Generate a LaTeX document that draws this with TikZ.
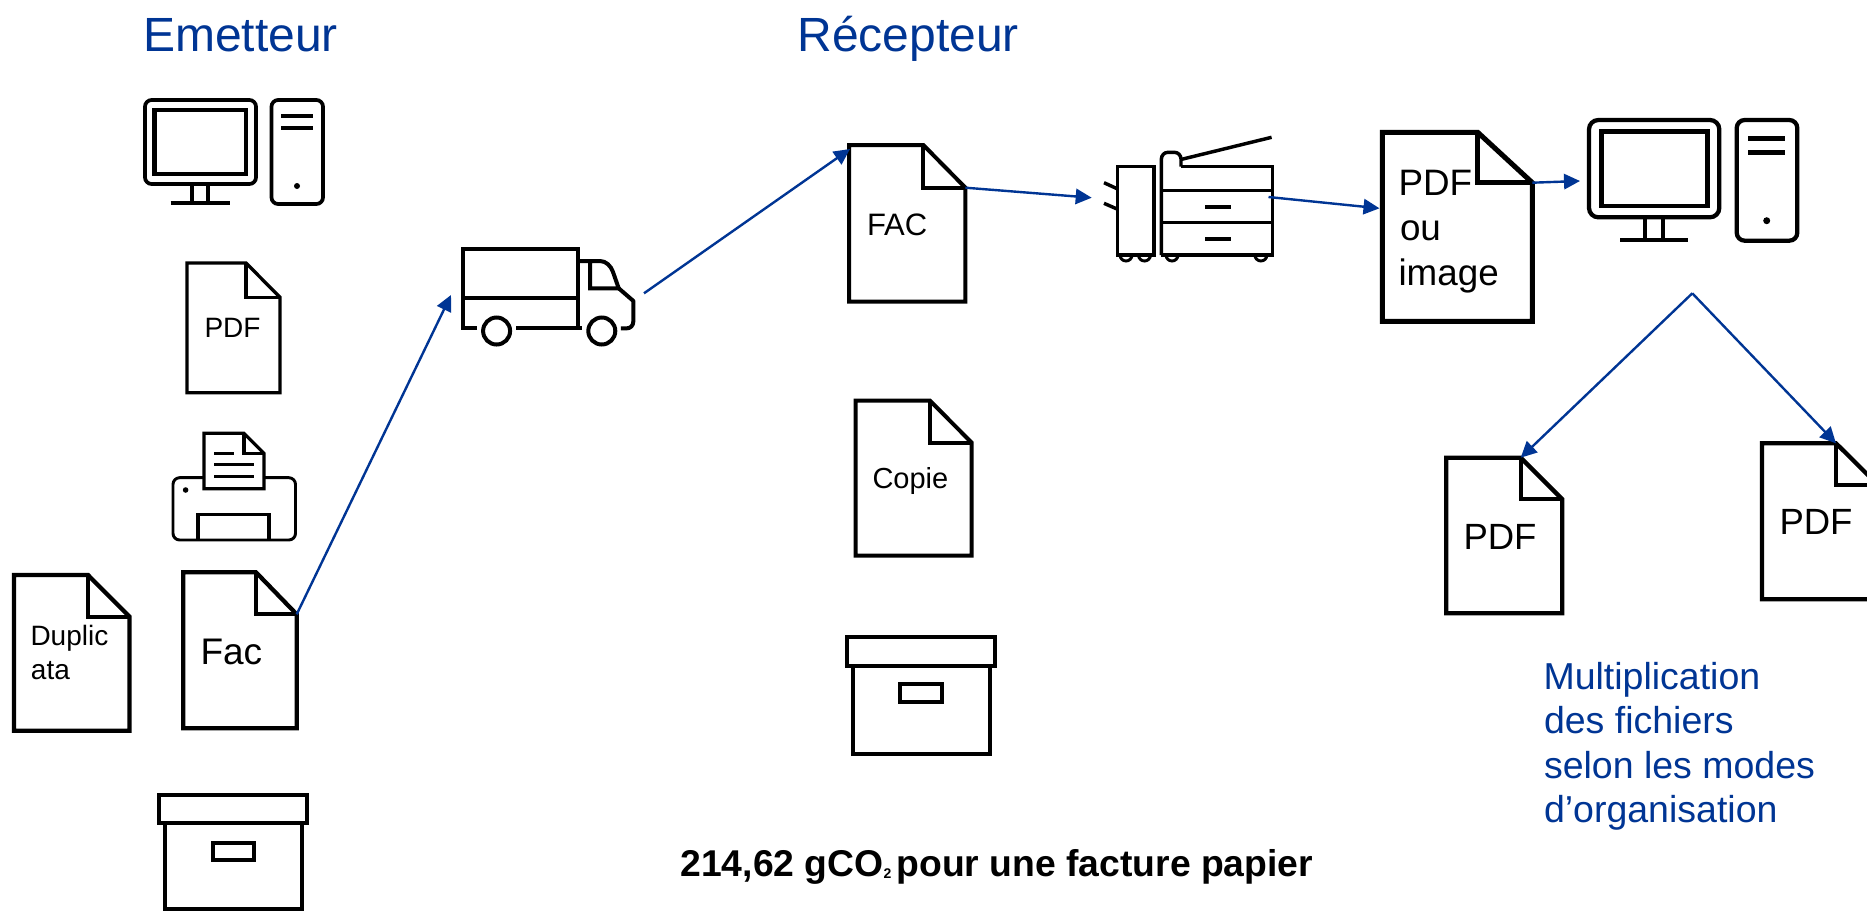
\documentclass[tikz,border=0pt]{standalone}
\usepackage{fontspec}
\setmainfont{Liberation Sans}
\usetikzlibrary{arrows.meta}
\definecolor{brandblue}{HTML}{003594}
\newcommand{\px}[1]{\fontsize{\fpeval{#1*0.75}pt}{\fpeval{#1*0.9}pt}\selectfont}
\tikzset{
  x=0.75pt,y=-0.75pt,
  icon/.style={draw=black,line width=#1,line join=miter,fill=none},
  icon/.default=3pt,
  lbl/.style={anchor=base west,inner sep=0pt,outer sep=0pt,text=black},
  heading/.style={lbl,text=brandblue},
  flow/.style={draw=brandblue,line width=1.8pt,-{Triangle[length=12pt,width=11.5pt]}},
  dot/.style={fill=black,draw=none},
}
% #1 name, #2 left, #3 top, #4 right, #5 bottom, #6 fold x, #7 fold y, #8 stroke
\newcommand{\docicon}[8]{%
  \draw[icon=#8] (#2,#3) -- (#6,#3) -- (#4,#7) -- (#4,#5) -- (#2,#5) -- cycle;
  \draw[icon=#8] (#6,#3) -- (#6,#7) -- (#4,#7);
  \coordinate (#1-tip) at (#6,#3);
  \coordinate (#1-fold) at (#4,#7);
}
% #1 left, #2 right, #3 lidtop, #4 lidbot, #5 bodyleft, #6 bodyright, #7 bottom, #8 label corner, #9 label corner
\newcommand{\boxicon}[9]{%
  \draw[icon=3pt] (#1,#3) rectangle (#2,#4);
  \draw[icon=3pt] (#5,#4) -- (#5,#7) -- (#6,#7) -- (#6,#4);
  \draw[icon=2.8pt] #8 rectangle #9;
}
\begin{document}
\begin{tikzpicture}
\path[use as bounding box] (0,0) rectangle (1867,911);
\clip (0,0) rectangle (1867,911);
\fill[white] (0,0) rectangle (1867,911);

% Headings
\node[heading] (hE) at (143,51.5) {\px{48}Emetteur};
\node[heading] (hR) at (797.5,51.5) {\px{48}Récepteur};

% Computer 1
\draw[icon=2.8pt,rounded corners=5pt] (145,100) rectangle (256,184);
\draw[icon=3.2pt] (154.5,110) rectangle (246,174);
\draw[icon=2.6pt] (192,184) -- (192,202.7);
\draw[icon=2.6pt] (208,184) -- (208,202.7);
\draw[icon=3pt] (170.5,202.7) -- (230,202.7);
\draw[icon=2.8pt,rounded corners=5pt] (271.5,100) rectangle (323,204);
\draw[icon=3pt] (281,115.7) -- (313,115.7);
\draw[icon=3pt] (281,127.7) -- (313,127.7);
\fill[dot] (297,186) circle (3);

% PDF doc
\docicon{pdfa}{187}{263}{280}{392.7}{246}{297.3}{2.5pt}
\node[lbl] (tPdfa) at (204.5,337.3) {\px{28}PDF};

% Printer
\draw[icon=2.2pt,rounded corners=5pt] (204,477.7) -- (173,477.7) -- (173,540) -- (295.5,540) -- (295.5,477.7) -- (264,477.7);
\draw[icon=2.4pt] (204,433.3) -- (244,433.3) -- (264,453.3) -- (264,488.7) -- (204,488.7) -- cycle;
\draw[icon=2.4pt] (244,433.3) -- (244,453.3) -- (264,453.3);
\draw[icon=2.2pt] (214,453.3) -- (233.6,453.3);
\draw[icon=2.2pt] (214,464.3) -- (254,464.3);
\draw[icon=2.2pt] (214,476.3) -- (254,476.3);
\fill[dot] (185.6,490) circle (2.8);
\draw[icon=2.4pt] (198,540) -- (198,514.3) -- (269,514.3) -- (269,540);

% Duplicata + Fac
\docicon{dup}{14}{575}{129.5}{730.7}{88}{616.7}{3.2pt}
\node[lbl] (tDup1) at (30.5,645.7) {\px{28}Duplic};
\node[lbl] (tDup2) at (31,679) {\px{28}ata};
\docicon{fac}{183.3}{572.3}{296.7}{728.3}{256}{614.3}{3.2pt}
\node[lbl] (tFac) at (200.5,664) {\px{37}Fac};

% Box 1
\boxicon{159}{307.3}{795}{823.3}{165.3}{301.7}{909.3}{(212.7,842.7)}{(254,860)}

% Truck
\draw[icon=3pt] (477,328.3) -- (463,328.3) -- (463,249) -- (578,249) -- (578,328.3);
\draw[icon=3pt] (463,298.3) -- (578,298.3);
\draw[icon=3pt] (516.4,328.3) -- (582,328.3);
\draw[icon=3pt] (578,261) -- (600,261) .. controls (606,261) and (611,266) .. (613,272) -- (618.7,288.3) -- (590,288.3) -- (590,261);
\draw[icon=3pt,line join=round] (618.7,288.3) -- (633.4,301) -- (633.4,321) .. controls (633.4,326) and (630,328.3) .. (627,328.3) -- (620.8,328.3);
\draw[icon=3pt] (496.6,331) circle (13.5);
\draw[icon=3pt] (601.8,331) circle (13.5);
\coordinate (truckIn) at (451,295);
\coordinate (truckOut) at (644,293.3);

% FAC doc
\docicon{rfac}{849}{145}{965.4}{301.7}{923.3}{187.7}{3pt}
\coordinate (rfacCorner) at (850,149);
\node[lbl] (tRfac) at (867,235.7) {\px{31}FAC};

% Copier
\draw[icon=2.6pt] (1117.7,166.7) rectangle (1154,255);
\draw[icon=2.6pt] (1104,182.7) -- (1117.7,189);
\draw[icon=2.6pt] (1104,203.3) -- (1117.7,209.3);
\draw[icon=2.6pt,rounded corners=5pt] (1161.4,255) -- (1161.4,152.3) -- (1181,152.3) -- (1181,166.7);
\draw[icon=2.6pt] (1181,166.7) -- (1272.7,166.7) -- (1272.7,255) -- (1161.4,255);
\draw[icon=2.6pt] (1181.7,159.3) -- (1271.6,137.3);
\draw[icon=2.6pt] (1161.4,190.7) -- (1272.7,190.7);
\draw[icon=2.6pt] (1161.4,222.7) -- (1272.7,222.7);
\draw[icon=2.8pt] (1205,207) -- (1231,207);
\draw[icon=2.8pt] (1205,239) -- (1231,239);
\draw[icon=2.2pt] (1120,255) arc[start angle=180,end angle=0,radius=6];
\draw[icon=2.2pt] (1138.5,255) arc[start angle=180,end angle=0,radius=6];
\draw[icon=2.2pt] (1166,255) arc[start angle=180,end angle=0,radius=6];
\draw[icon=2.2pt] (1254.9,255) arc[start angle=180,end angle=0,radius=6];
\coordinate (copierIn) at (1091.7,197.7);
\coordinate (copierOut) at (1268.5,197);

% PDF ou image
\docicon{img}{1382.3}{132.3}{1532.3}{321.3}{1477.7}{182.7}{3.8pt}
\node[lbl] (tImg1) at (1398.5,195) {\px{36.8}PDF};
\node[lbl] (tImg2) at (1400,240) {\px{36.8}ou};
\node[lbl] (tImg3) at (1398.5,285) {\px{36.8}image};
\coordinate (imgIn) at (1379.5,208.3);

% Computer 2
\draw[icon=3.2pt,rounded corners=7pt] (1589,120) rectangle (1719.3,217.3);
\draw[icon=3.6pt] (1601.7,131.7) rectangle (1707.3,206);
\draw[icon=3pt] (1645,217.3) -- (1645,240);
\draw[icon=3pt] (1663.3,217.3) -- (1663.3,240);
\draw[icon=3.4pt] (1620,240) -- (1688.3,240);
\draw[icon=3.2pt,rounded corners=6pt] (1736.7,120) rectangle (1797.3,240.7);
\draw[icon=3.4pt] (1748,138.3) -- (1785,138.3);
\draw[icon=3.4pt] (1748,152.3) -- (1785,152.3);
\fill[dot] (1766.7,220.7) circle (3.5);
\coordinate (pcIn) at (1580,181);
\coordinate (apex) at (1692.3,293.3);

% Copie
\docicon{copie}{855.7}{400.7}{971.7}{555.7}{930}{442.7}{3pt}
\node[lbl] (tCopie) at (872.5,488.3) {\px{29}Copie};

% Box 2
\boxicon{846.5}{995}{636.7}{665.7}{852.5}{989.6}{754}{(899.8,684.3)}{(941.9,702.3)}

% PDF A, B
\docicon{pa}{1446.3}{457.7}{1562.3}{613.3}{1520.7}{499.3}{3.2pt}
\node[lbl] (tPa) at (1463.5,549) {\px{36.5}PDF};
\docicon{pb}{1762}{443.3}{1878}{599.3}{1836}{485}{3.2pt}
\node[lbl] (tPb) at (1779.5,534.3) {\px{36.5}PDF};

% Blue note
\node[heading] (m1) at (1543.5,689.3) {\px{37.5}Multiplication};
\node[heading] (m2) at (1544,733.3) {\px{37.5}des fichiers};
\node[heading] (m3) at (1544,778.3) {\px{37.5}selon les modes};
\node[heading] (m4) at (1544,822.7) {\px{37.5}d’organisation};

% Footer
\node[lbl] (foot) at (680.5,876.7) {\px{37.3}\bfseries 214,62 gCO\raisebox{-1.5pt}{\px{14}2}\hspace{3.8pt}pour une facture papier};

% Connectors
\draw[flow] (fac-fold) -- (truckIn);
\draw[flow] (truckOut) -- (rfacCorner);
\draw[flow] (rfac-fold) -- (copierIn);
\draw[flow] (copierOut) -- (imgIn);
\draw[flow] (img-fold) -- (pcIn);
\draw[flow] (apex) -- (pa-tip);
\draw[flow] (apex) -- (pb-tip);
\end{tikzpicture}
\end{document}
